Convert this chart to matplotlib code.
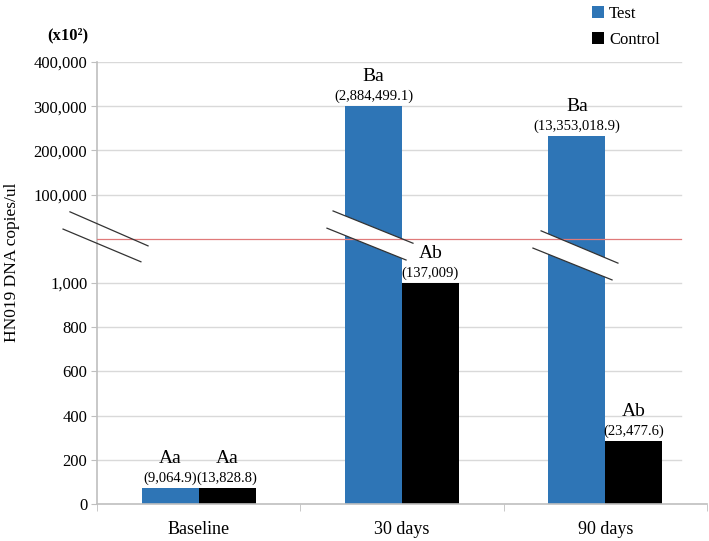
import numpy as np
import matplotlib
matplotlib.use("Agg")
import matplotlib.pyplot as plt
from matplotlib.patches import Polygon, Patch
from matplotlib.transforms import blended_transform_factory

plt.rcParams['font.family'] = ['Liberation Serif', 'DejaVu Serif']

# data (in x10^2 copies/ul)
groups = ["Baseline", "30 days", "90 days"]
test_vals = [73, 300000, 232000]
control_vals = [73, 1020, 286]
test_letters = ["Aa", "Ba", "Ba"]
control_letters = ["Aa", "Ab", "Ab"]
test_text = ["(9,064.9)", "(2,884,499.1)", "(13,353,018.9)"]
control_text = ["(13,828.8)", "(137,009)", "(23,477.6)"]
yticks = [0, 200, 400, 600, 800, 1000, 100000, 200000, 300000, 400000]

BLUE = "#2E75B6"
GRID = "#D9D9D9"
AXC = "#BFBFBF"


# piecewise scale: 0-1000 linear, gap, 100,000-400,000 linear
def fwd(v):
    v = np.asarray(v, dtype=float)
    return np.where(v <= 1000, v,
                    np.where(v <= 100000, 1000 + (v - 1000) / 99000 * 400,
                             1400 + (v - 100000) / 100000 * 200))


def inv(p):
    p = np.asarray(p, dtype=float)
    return np.where(p <= 1000, p,
                    np.where(p <= 1400, 1000 + (p - 1000) / 400 * 99000,
                             100000 + (p - 1400) / 200 * 100000))


fig = plt.figure(figsize=(7.09, 5.41), dpi=100)
ax = fig.add_axes([97 / 709, 37 / 541, 610 / 709, 442 / 541])
ax.set_yscale('function', functions=(fwd, inv))
ax.set_ylim(0, 400000)
ax.set_xlim(-0.5, 2.5)

# gridlines (stop short of the right end like the original)
for t in yticks[1:]:
    ax.plot([-0.5, 2.37], [t, t], color=GRID, lw=1, zorder=0)
# red line in the gap
ax.plot([-0.5, 2.37], [50500, 50500], color="#E07A7A", lw=0.9, zorder=6)

x = np.arange(len(groups))
w = 0.28
ax.bar(x - w / 2, test_vals, w, color=BLUE, zorder=2)
ax.bar(x + w / 2, control_vals, w, color="black", zorder=2)

for i in range(len(groups)):
    for xx, v, let, txt in [(x[i] - w / 2, test_vals[i], test_letters[i], test_text[i]),
                            (x[i] + w / 2, control_vals[i], control_letters[i], control_text[i])]:
        ax.annotate(txt, (xx, v), xytext=(0, 2), textcoords='offset points',
                    ha='center', va='bottom', fontsize=10.5, zorder=7)
        ax.annotate(let, (xx, v), xytext=(0, 15), textcoords='offset points',
                    ha='center', va='bottom', fontsize=14, zorder=7)

# break marks
bt = blended_transform_factory(ax.transData, ax.transAxes)
breaks = [
    ((-0.633, 0.661), (-0.249, 0.584), (-0.284, 0.548), (-0.667, 0.622), False),
    ((0.661, 0.663), (1.054, 0.590), (1.020, 0.552), (0.631, 0.624), True),
    ((1.684, 0.618), (2.062, 0.545), (2.033, 0.507), (1.644, 0.579), True),
]
for a, b, c, d, fill in breaks:
    if fill:
        ax.add_patch(Polygon([a, b, c, d], closed=True, transform=bt,
                             facecolor='white', edgecolor='none', zorder=5, clip_on=False))
    ax.plot([a[0], b[0]], [a[1], b[1]], transform=bt, color='#333333', lw=0.9,
            zorder=8, clip_on=False)
    ax.plot([d[0], c[0]], [d[1], c[1]], transform=bt, color='#333333', lw=0.9,
            zorder=8, clip_on=False)

# axes styling
ax.set_yticks(yticks)
ax.set_yticklabels([f"{t:,}" for t in yticks], fontsize=12)
ax.yaxis.set_minor_locator(plt.NullLocator())
ax.set_xticks(x)
ax.set_xticklabels(groups, fontsize=13)
ax.set_xticks([-0.5, 0.5, 1.5, 2.5], minor=True)
ax.tick_params(axis='x', which='major', length=0, pad=12)
ax.tick_params(axis='x', which='minor', length=5, color=AXC)
ax.tick_params(axis='y', length=4, color=AXC, pad=3)
for s in ['top', 'right']:
    ax.spines[s].set_visible(False)
ax.spines['left'].set_color(AXC)
ax.spines['bottom'].set_color(AXC)
ax.spines['left'].set_linewidth(1.2)
ax.spines['bottom'].set_linewidth(1.2)

fig.text(12 / 709, 1 - 262 / 541, "HN019 DNA copies/ul", rotation=90,
         ha='center', va='center', fontsize=12.5)
fig.text(68 / 709, 1 - 35 / 541, "(x10\u00b2)", ha='center', va='center',
         fontsize=12, fontweight='bold')

handles = [Patch(facecolor=BLUE, edgecolor='none'), Patch(facecolor='black', edgecolor='none')]
fig.legend(handles, ["Test", "Control"], loc='upper left',
           bbox_to_anchor=(590 / 709, 1 - 4 / 541), frameon=False, fontsize=12,
           handlelength=0.75, handleheight=0.75, handletextpad=0.3,
           labelspacing=0.6, borderpad=0.1, borderaxespad=0)

fig.savefig("out.png", dpi=100)
